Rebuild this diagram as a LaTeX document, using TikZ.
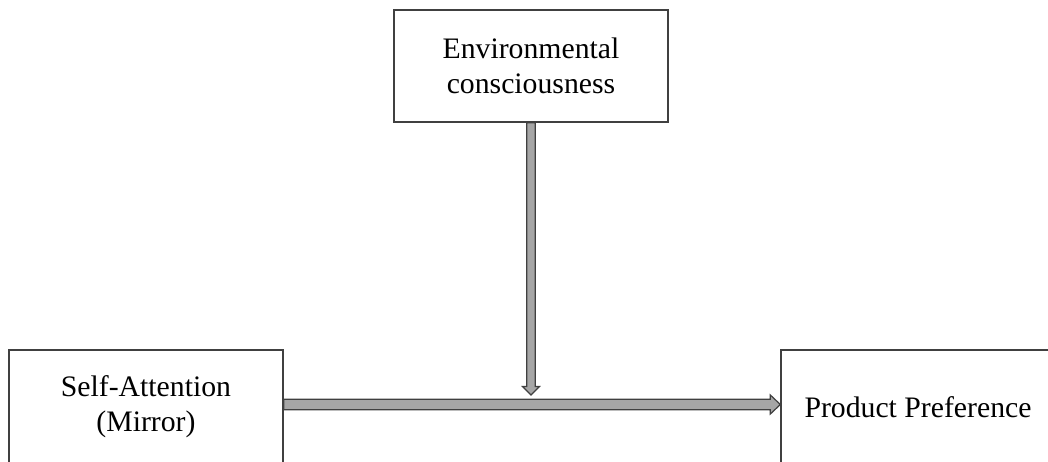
\documentclass[tikz,border=0pt]{standalone}
\usepackage{fontspec}
\setmainfont{Liberation Serif}
\usetikzlibrary{calc}
\definecolor{boxline}{HTML}{404040}
\definecolor{arrowfill}{HTML}{A6A6A6}
\begin{document}
\begin{tikzpicture}[
x=0.75pt,y=-0.75pt,
box/.style={
draw=boxline,
line width=1pt,
align=center,
inner sep=0pt,
minimum width=205.5pt,
minimum height=84pt,
font=\fontsize{22.3}{26.3}\selectfont
},
fatarrow/.style={
draw=boxline,
fill=arrowfill,
line width=0.9pt,
line join=miter
}
]
\useasboundingbox (0,0) rectangle (1048,461);
\clip (0,0) rectangle (1048,461);

\node[box] (E) at (531,66) {Environmental\\consciousness};
\node[box,minimum height=85.5pt] (S) at (146,407) {Self-Attention\\(Mirror)};
\node[box,minimum height=85.5pt] (P) at (918,407) {Product Preference};

\coordinate (H1) at ($(S.east)+(0,-2.5)$);
\coordinate (H2) at ($(P.west)+(0,-2.5)$);
\coordinate (V1) at (E.south);
\coordinate (V2) at ($(E.south |- H1)+(0,-9.5)$);

% main path
\draw[fatarrow] ($(H1)+(0,-5.3)$) -- ($(H2)+(-10,-5.3)$) -- ($(H2)+(-10,-9.5)$)
  -- (H2) -- ($(H2)+(-10,9.5)$) -- ($(H2)+(-10,5.3)$) -- ($(H1)+(0,5.3)$) -- cycle;

% moderator
\draw[fatarrow] ($(V1)+(-4.3,0)$) -- ($(V2)+(-4.3,-8.5)$) -- ($(V2)+(-8.5,-8.5)$)
  -- (V2) -- ($(V2)+(8.5,-8.5)$) -- ($(V2)+(4.3,-8.5)$) -- ($(V1)+(4.3,0)$) -- cycle;

\end{tikzpicture}
\end{document}
